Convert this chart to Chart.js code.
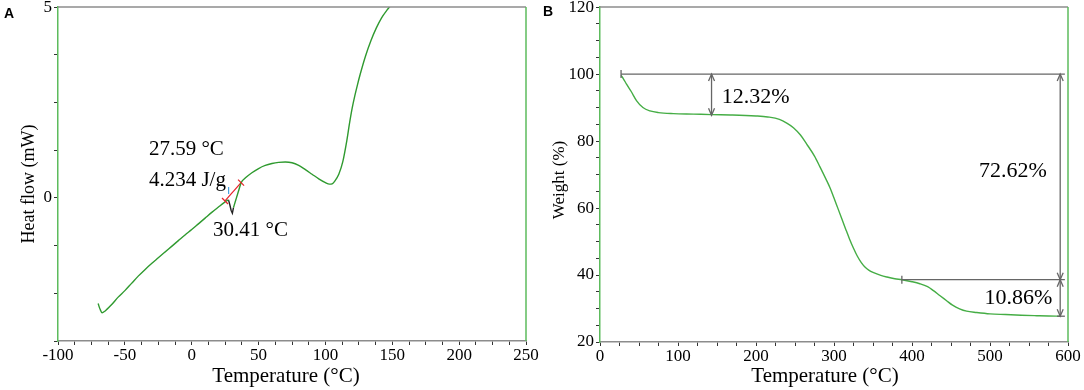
<!DOCTYPE html>
<html>
<head>
<meta charset="utf-8">
<script src="https://cdn.jsdelivr.net/npm/chart.js@4.4.1/dist/chart.umd.min.js"></script>
<style>
  html, body { margin: 0; padding: 0; background: #fff; }
  #wrap { position: relative; width: 1084px; height: 390px; }
  canvas { position: absolute; top: 0; }
  #dsc { left: 0; }
  #tga { left: 540px; }
</style>
</head>
<body>
<div id="wrap">
  <canvas id="dsc" width="540" height="390"></canvas>
  <canvas id="tga" width="544" height="390"></canvas>
</div>
<script>
// ---- Panel A: DSC heat flow ----
const dscTemp = [-70, -68.5, -67, -65, -60, -55, -50, -45, -40, -35, -30, -25, -20, -15, -10, -5, 0, 5, 10, 15, 20, 24, 26, 27.5];
const dscFlow = [-2.77, -2.92, -3.01, -2.97, -2.80, -2.60, -2.43, -2.24, -2.05, -1.88, -1.72, -1.57, -1.42, -1.27, -1.12, -0.97, -0.83, -0.68, -0.53, -0.38, -0.24, -0.13, -0.08, -0.05];
// melting dip (drawn black in the reference)
const dipTemp = [27.5, 28.5, 29.5, 30.41, 31.2];
const dipFlow = [-0.05, -0.18, -0.33, -0.40, -0.26];
const dscTemp2 = [31.2, 33, 35, 37, 40, 45, 50, 55, 60, 65, 70, 75, 80, 85, 90, 95, 100, 103, 105, 107, 110, 113, 116, 118, 120, 122, 124, 126, 130, 134, 138, 142, 146, 149];
const dscFlow2 = [-0.26, -0.05, 0.18, 0.40, 0.52, 0.66, 0.77, 0.85, 0.90, 0.93, 0.94, 0.92, 0.85, 0.74, 0.62, 0.50, 0.40, 0.36, 0.37, 0.44, 0.62, 0.95, 1.50, 1.95, 2.35, 2.68, 2.97, 3.24, 3.72, 4.12, 4.45, 4.72, 4.92, 5.05];
const baseTemp = [24.9, 36.9];
const baseFlow = [-0.08, 0.40];
const dscNotes = ['27.59 °C', '4.234 J/g', '30.41 °C'];
const dscNoteX = [-32, -32, 16];
const dscNoteY = [1.28, 0.45, -0.86];

// ---- Panel B: TGA weight ----
const tgaTemp = [27, 30, 34, 40, 47, 55, 64, 75, 94, 120, 143, 170, 200, 215, 230, 240, 248, 257, 265, 275, 282, 290, 295, 300, 305, 310, 315, 320, 325, 330, 335, 340, 345, 350, 360, 368, 378, 387, 400, 410, 420, 427, 436, 444, 452, 461, 470, 483, 500, 520, 540, 560, 575, 590];
const tgaWeight = [99.6, 98.6, 97.0, 94.8, 92.0, 90.0, 89.0, 88.5, 88.2, 88.05, 87.9, 87.8, 87.5, 87.2, 86.5, 85.3, 84.0, 81.8, 79.1, 75.5, 72.3, 68.5, 66.0, 63.0, 59.9, 56.8, 53.7, 50.7, 48.0, 45.6, 43.7, 42.3, 41.4, 40.8, 39.9, 39.4, 38.9, 38.6, 38.0, 37.4, 36.5, 35.4, 33.8, 32.4, 31.0, 29.9, 29.2, 28.8, 28.4, 28.2, 28.0, 27.85, 27.75, 27.7];
const stepStartX = [27, 387];
const stepLevel = [100, 38.6];
const stepEndX = 596;
const arrowX = [143, 590, 590];
const arrowFrom = [100, 100, 38.6];
const arrowTo = [87.68, 38.6, 27.7];
const lossLabels = ['12.32%', '72.62%', '10.86%'];
const lossLabelX = [156, 573, 580];
const lossLabelY = [93.0, 71.1, 33.0];
const lossAlign = ['left', 'right', 'right'];

const SERIF = '"Liberation Serif", "Times New Roman", serif';
const AXIS_GREEN = '#5dbb5d';
const FRAME_GRAY = '#8c8c8c';

function pts(xs, ys) { return xs.map((x, i) => ({x: x, y: ys[i]})); }

function axis(min, max, step, labelEvery, fit, isX) {
  return {
    type: 'linear', min: min, max: max,
    afterFit: s => { if (isX) s.height = fit; else s.width = fit; },
    border: { display: true, color: isX ? FRAME_GRAY : AXIS_GREEN, width: 1.5 },
    grid: { display: true, drawOnChartArea: false, drawTicks: true, tickLength: 4, color: '#333', lineWidth: 1 },
    ticks: {
      stepSize: step, autoSkip: false, maxRotation: 0, padding: isX ? 0 : 2,
      color: '#000', font: { family: SERIF, size: 17, lineHeight: isX ? 1.2 : 0.6 },
      callback: v => (Math.abs(v % labelEvery) < 1e-9 ? String(v) : '')
    }
  };
}

function frame(ctx, area) {
  ctx.save();
  ctx.lineWidth = 1.5;
  ctx.strokeStyle = FRAME_GRAY;
  ctx.beginPath(); ctx.moveTo(area.left, area.top); ctx.lineTo(area.right, area.top); ctx.stroke();
  ctx.strokeStyle = AXIS_GREEN;
  ctx.beginPath(); ctx.moveTo(area.right, area.top); ctx.lineTo(area.right, area.bottom); ctx.stroke();
  ctx.restore();
}

function text(ctx, str, x, y, font, align, rot) {
  ctx.save();
  ctx.fillStyle = '#000';
  ctx.font = font;
  ctx.textAlign = align || 'center';
  ctx.textBaseline = 'middle';
  ctx.translate(x, y);
  if (rot) ctx.rotate(rot);
  ctx.fillText(str, 0, 0);
  ctx.restore();
}

function arrowHead(ctx, x, y, dir) {
  ctx.beginPath();
  ctx.moveTo(x - 3, y + dir * 7);
  ctx.lineTo(x, y);
  ctx.lineTo(x + 3, y + dir * 7);
  ctx.stroke();
}

const common = {
  responsive: false, animation: false, devicePixelRatio: 1,
  plugins: { legend: { display: false }, tooltip: { enabled: false } },
  elements: { point: { radius: 0 } }
};

// ---------- Chart A ----------
new Chart(document.getElementById('dsc'), {
  type: 'scatter',
  data: {
    datasets: [
      { data: pts(dscTemp, dscFlow), showLine: true, borderColor: '#2f9a2f', borderWidth: 1.4, cubicInterpolationMode: 'monotone' },
      { data: pts(dipTemp, dipFlow), showLine: true, borderColor: '#222', borderWidth: 1.4 },
      { data: pts(dscTemp2, dscFlow2), showLine: true, borderColor: '#2f9a2f', borderWidth: 1.4, cubicInterpolationMode: 'monotone' },
      { data: pts(baseTemp, baseFlow), showLine: true, borderColor: '#e8202a', borderWidth: 1.2 }
    ]
  },
  options: Object.assign({}, common, {
    layout: { autoPadding: false, padding: { top: 6, right: 14, left: 0, bottom: 0 } },
    scales: {
      x: axis(-100, 250, 12.5, 50, 49, true),
      y: axis(-3.75, 5, 1.25, 5, 58, false)
    }
  }),
  plugins: [{
    id: 'dscMarks',
    afterDraw(chart) {
      const {ctx, chartArea, scales: {x, y}} = chart;
      frame(ctx, chartArea);
      ctx.save();
      // red end ticks of the integration baseline
      ctx.strokeStyle = '#e8202a'; ctx.lineWidth = 1.2;
      baseTemp.forEach((t, i) => {
        const px = x.getPixelForValue(t), py = y.getPixelForValue(baseFlow[i]);
        ctx.beginPath(); ctx.moveTo(px - 3, py - 3); ctx.lineTo(px + 3, py + 3); ctx.stroke();
      });
      // blue onset marker
      ctx.strokeStyle = '#4aa3e0';
      const bx = x.getPixelForValue(27.59), by = y.getPixelForValue(0.18);
      ctx.beginPath(); ctx.moveTo(bx, by - 4); ctx.lineTo(bx, by + 3); ctx.stroke();
      ctx.restore();
      dscNotes.forEach((s, i) => text(ctx, s, x.getPixelForValue(dscNoteX[i]), y.getPixelForValue(dscNoteY[i]), '21px ' + SERIF, 'left'));
      text(ctx, 'Temperature (°C)', 286, 376, '21px ' + SERIF);
      text(ctx, 'Heat flow (mW)', 29, 184, '18px ' + SERIF, 'center', -Math.PI / 2);
      text(ctx, 'A', 4, 14, 'bold 14px "Liberation Sans", Arial, sans-serif', 'left');
    }
  }]
});

// ---------- Chart B ----------
new Chart(document.getElementById('tga'), {
  type: 'scatter',
  data: {
    datasets: [
      { data: pts(tgaTemp, tgaWeight), showLine: true, borderColor: '#45ad45', borderWidth: 1.4, cubicInterpolationMode: 'monotone' }
    ]
  },
  options: Object.assign({}, common, {
    layout: { autoPadding: false, padding: { top: 6, right: 16, left: 0, bottom: 0 } },
    scales: {
      x: axis(0, 600, 25, 100, 48, true),
      y: axis(20, 120, 5, 20, 60, false)
    }
  }),
  plugins: [{
    id: 'tgaMarks',
    afterDraw(chart) {
      const {ctx, chartArea, scales: {x, y}} = chart;
      frame(ctx, chartArea);
      ctx.save();
      ctx.strokeStyle = '#666'; ctx.lineWidth = 1.3;
      const xe = x.getPixelForValue(stepEndX);
      stepLevel.forEach((lv, i) => {
        const py = y.getPixelForValue(lv), px = x.getPixelForValue(stepStartX[i]);
        ctx.beginPath(); ctx.moveTo(px, py); ctx.lineTo(xe, py); ctx.stroke();
        ctx.beginPath(); ctx.moveTo(px, py - 4); ctx.lineTo(px, py + 4); ctx.stroke();
      });
      // short end line at the final residue level
      const yr = y.getPixelForValue(arrowTo[2]);
      ctx.beginPath(); ctx.moveTo(x.getPixelForValue(586), yr); ctx.lineTo(xe, yr); ctx.stroke();
      arrowX.forEach((ax, i) => {
        const px = x.getPixelForValue(ax);
        const y1 = y.getPixelForValue(arrowFrom[i]), y2 = y.getPixelForValue(arrowTo[i]);
        ctx.beginPath(); ctx.moveTo(px, y1); ctx.lineTo(px, y2); ctx.stroke();
        arrowHead(ctx, px, y1, 1);
        arrowHead(ctx, px, y2, -1);
      });
      ctx.restore();
      lossLabels.forEach((s, i) => text(ctx, s, x.getPixelForValue(lossLabelX[i]), y.getPixelForValue(lossLabelY[i]), '22px ' + SERIF, lossAlign[i]));
      text(ctx, 'Temperature (°C)', 285, 376, '21px ' + SERIF);
      text(ctx, 'Weight (%)', 20, 180, '17px ' + SERIF, 'center', -Math.PI / 2);
      text(ctx, 'B', 3, 12, 'bold 14px "Liberation Sans", Arial, sans-serif', 'left');
    }
  }]
});
</script>
</body>
</html>
